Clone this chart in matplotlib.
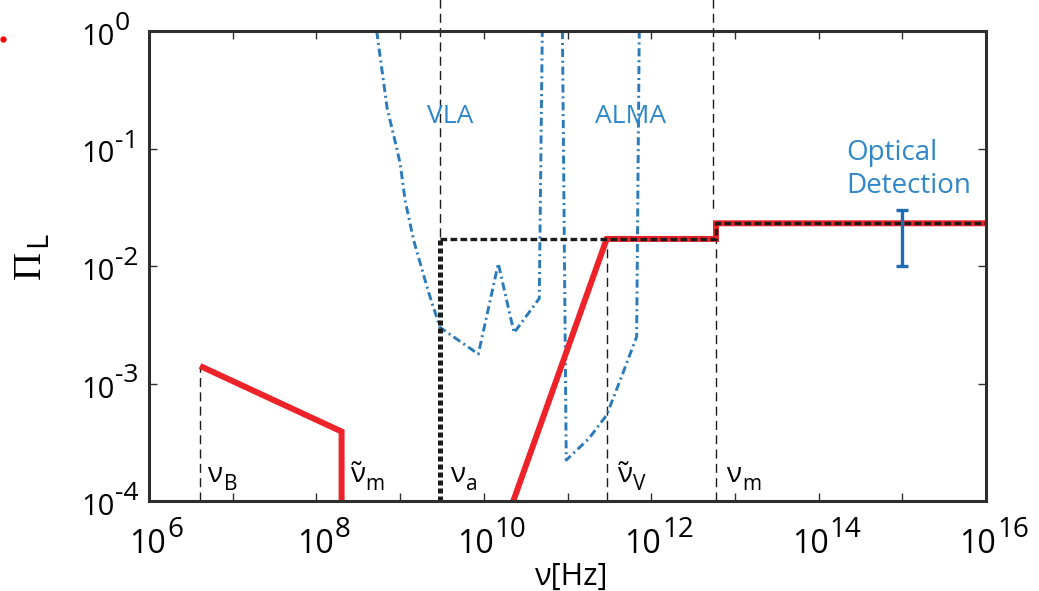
import matplotlib
matplotlib.use("Agg")
import matplotlib.pyplot as plt
import matplotlib.transforms as mtransforms
from matplotlib.lines import Line2D
from matplotlib.ticker import NullLocator

plt.rcParams['font.family'] = ['Open Sans', 'DejaVu Sans']

# ---------------- data ----------------
nu_B = 4.07e6
nu_tm = 2.0e8
nu_a = 2.99e9
nu_tV = 2.94e11
nu_m = 5.94e12
nu_m_top = 5.52e12

red_low_nu = [4.07e6, 2.0e8, 2.0e8]
red_low_pi = [1.41e-3, 3.9e-4, 1e-4]

red_high_nu = [2.25e10, 2.94e11, 5.94e12, 5.94e12, 1e16]
red_high_pi = [1e-4, 0.017, 0.017, 0.0231, 0.0231]

dot_vert_nu = [2.99e9, 2.99e9]
dot_vert_pi = [1e-4, 0.017]
dot_horiz_nu = [2.99e9, 5.94e12, 5.94e12, 1e16]
dot_horiz_pi = [0.017, 0.017, 0.0231, 0.0231]

vla_nu = [5.25e8, 7.0e8, 8.6e8, 1.0e9, 1.15e9, 1.45e9, 2.2e9, 3.0e9, 8.6e9, 1.49e10, 2.3e10, 4.6e10, 5.0e10]
vla_pi = [1.0, 0.22, 0.12, 0.075, 0.036, 0.0166, 5.9e-3, 3.0e-3, 1.78e-3, 1.05e-2, 2.7e-3, 5.3e-3, 1.0]

alma_nu = [8.7e10, 9.66e10, 1.8e11, 2.94e11, 4.5e11, 6.7e11, 7.2e11]
alma_pi = [1.0, 2.23e-4, 3.4e-4, 5.4e-4, 1.18e-3, 2.5e-3, 1.0]

opt_nu = [1e15]
opt_pi = [0.02]
opt_err = [0.01]

x_tick_exps = [6, 7, 8, 9, 10, 11, 12, 13, 14, 15, 16]
x_label_exps = [6, 8, 10, 12, 14, 16]
y_tick_exps = [0, -1, -2, -3, -4]

# ---------------- figure ----------------
W, H = 1039, 591
fig = plt.figure(figsize=(W / 100, H / 100), dpi=100)
ax = fig.add_axes([149 / W, 1 - 501 / H, (986 - 149) / W, (501 - 31) / H])
ax.set_xscale('log')
ax.set_yscale('log')
ax.set_xlim(1e6, 1e16)
ax.set_ylim(1e-4, 1)

RED = '#ee2229'
BLUE = '#2b7bba'
TBLUE = '#2f86c8'
K = '#1a1a1a'

# thin dashed guide lines
thin = dict(color=K, lw=1.0, ls=(0, (6.5, 3.8)))
ax.plot([nu_B, nu_B], [1e-4, red_low_pi[0]], **thin)
ax.plot([nu_tV, nu_tV], [1e-4, 0.017], **thin)
ax.plot([nu_m, nu_m], [1e-4, 0.017], **thin)
trans = mtransforms.blended_transform_factory(ax.transData, ax.transAxes)
ax.plot([nu_a, nu_a], [1.07, 1 - 1.770 / 4], transform=trans, clip_on=False, **thin)
ax.plot([nu_m_top, nu_m_top], [1.07, 1 - 1.52 / 4], transform=trans, clip_on=False, **thin)

# sensitivity curves
dd = dict(color=BLUE, lw=2.1, ls=(0, (2.8, 1.3, 0.7, 1.3)))
ax.plot(vla_nu, vla_pi, **dd)
ax.plot(alma_nu, alma_pi, **dd)

# red model lines
ax.plot(red_low_nu, red_low_pi, color=RED, lw=4.3, solid_capstyle='butt', solid_joinstyle='miter')
ax.plot(red_high_nu, red_high_pi, color=RED, lw=4.3, solid_capstyle='butt', solid_joinstyle='miter')

# black dotted
ax.plot(dot_vert_nu, dot_vert_pi, color=K, lw=3.6, ls=(0, (1.0, 0.6)))
ax.plot(dot_horiz_nu, dot_horiz_pi, color=K, lw=2.4, ls=(0, (2.0, 1.0)))

# optical detection error bar
ax.errorbar(opt_nu, opt_pi, yerr=opt_err, fmt='none', ecolor='#1e6db3',
            elinewidth=2.4, capsize=4.5, capthick=2.4)

# axes style
for s in ax.spines.values():
    s.set_linewidth(2.2)
    s.set_color('#2e2e2e')
ax.set_xticks([10.0 ** k for k in x_tick_exps])
ax.set_yticks([10.0 ** k for k in y_tick_exps])
ax.xaxis.set_minor_locator(NullLocator())
ax.yaxis.set_minor_locator(NullLocator())
ax.tick_params(which='both', direction='in', top=True, right=True, length=6, width=1.0,
               color='#2e2e2e', labelbottom=False, labelleft=False)

# tick labels (base and large exponent)
for k in x_label_exps:
    j = 17 if k < 10 else 10
    ax.annotate('10', xy=(10.0 ** k, 0), xycoords=('data', 'axes fraction'),
                xytext=(j, -52), textcoords='offset pixels', ha='right', va='baseline',
                fontsize=23, color='black', annotation_clip=False)
    ax.annotate(str(k), xy=(10.0 ** k, 0), xycoords=('data', 'axes fraction'),
                xytext=(j + 1, -36), textcoords='offset pixels', ha='left', va='baseline',
                fontsize=20, color='black', annotation_clip=False)
for k in y_tick_exps:
    ax.annotate('10', xy=(0, 10.0 ** k), xycoords=('axes fraction', 'data'),
                xytext=(-34, -14), textcoords='offset pixels', ha='right', va='baseline',
                fontsize=21, color='black', annotation_clip=False)
    ax.annotate(str(k), xy=(0, 10.0 ** k), xycoords=('axes fraction', 'data'),
                xytext=(-34, 1), textcoords='offset pixels', ha='left', va='baseline',
                fontsize=19, color='black', annotation_clip=False)

# axis labels
fig.text(572 / W, 1 - 585 / H, 'ν[Hz]', ha='center', va='baseline', fontsize=22)
fig.text(30 / W, 1 - 265 / H, 'Π', ha='center', va='center', rotation=90,
         fontsize=28, family=['Liberation Serif', 'DejaVu Serif'])
fig.text(39 / W, 1 - 239 / H, 'L', ha='center', va='center', rotation=90, fontsize=21)

# frequency labels
def nu_label(x, main, sub):
    ax.annotate(main, xy=(x, 1e-4), xycoords='data', xytext=(0, 19), textcoords='offset pixels',
                ha='left', va='baseline', fontsize=20, annotation_clip=False)
    ax.annotate(sub, xy=(x, 1e-4), xycoords='data', xytext=(16, 11), textcoords='offset pixels',
                ha='left', va='baseline', fontsize=15, annotation_clip=False)

nu_label(5.0e6, 'ν', 'B')
nu_label(2.5e8, 'ν\u0303', 'm')
nu_label(4.0e9, 'ν', 'a')
nu_label(3.9e11, 'ν\u0303', 'V')
nu_label(7.8e12, 'ν', 'm')

# instrument labels
fig.text(427 / W, 1 - 123 / H, 'VLA', ha='left', va='baseline', fontsize=19, color=TBLUE)
fig.text(595 / W, 1 - 123 / H, 'ALMA', ha='left', va='baseline', fontsize=19, color=TBLUE)
fig.text(846 / W, 1 - 160 / H, 'Optical', ha='left', va='baseline', fontsize=20, color=TBLUE)
fig.text(846 / W, 1 - 193 / H, 'Detection', ha='left', va='baseline', fontsize=20, color=TBLUE)

fig.add_artist(Line2D([3 / W], [1 - 39 / H], marker='o', ms=3.5, color='red', lw=0,
                      transform=fig.transFigure))

fig.savefig('out.png', dpi=100)
